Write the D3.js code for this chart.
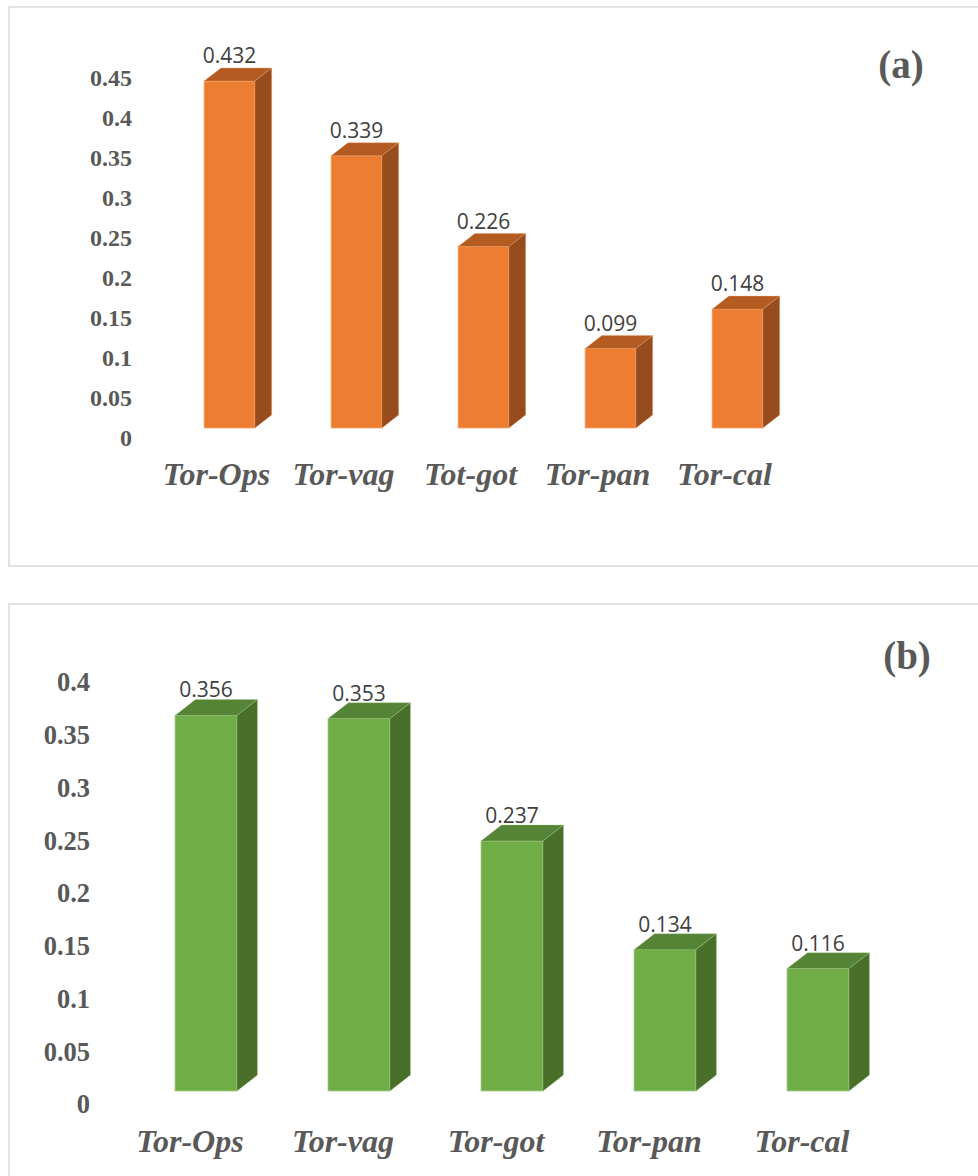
<!DOCTYPE html>
<html>
<head>
<meta charset="utf-8">
<script src="https://cdn.jsdelivr.net/npm/d3@7"></script>
<style>
  html, body { margin: 0; padding: 0; background: #ffffff; }
  svg { display: block; }
</style>
</head>
<body>
<div id="chart"></div>
<script>
// Panel (a) data
const categoriesA = ["Tor-Ops", "Tor-vag", "Tot-got", "Tor-pan", "Tor-cal"];
const valuesA = [0.432, 0.339, 0.226, 0.099, 0.148];
const ticksA = [0, 0.05, 0.1, 0.15, 0.2, 0.25, 0.3, 0.35, 0.4, 0.45];

// Panel (b) data
const categoriesB = ["Tor-Ops", "Tor-vag", "Tor-got", "Tor-pan", "Tor-cal"];
const valuesB = [0.356, 0.353, 0.237, 0.134, 0.116];
const ticksB = [0, 0.05, 0.1, 0.15, 0.2, 0.25, 0.3, 0.35, 0.4];

const W = 978, H = 1176;
const svg = d3.select("#chart").append("svg")
  .attr("width", W).attr("height", H);

const panels = [
  {
    name: "(a)", cats: categoriesA, vals: valuesA, ticks: ticksA,
    box: { x: 9, y: 7, w: 1000, h: 559 },
    xRange: [166, 801], pad: 0.6,
    yDomain: [0, 0.45], yRange: [428, 428 - 0.45 * 803],
    axisRange: [438, 78], axisRight: 132, tickSize: 24,
    catY: 485, catShift: -13,
    labelPos: [901, 78],
    front: "#ED7D31", top: "#B45B21", side: "#974C1D", edge: "#F4A46E"
  },
  {
    name: "(b)", cats: categoriesB, vals: valuesB, ticks: ticksB,
    box: { x: 9, y: 604, w: 1000, h: 600 },
    xRange: [129.5, 894.5], pad: 0.595,
    yDomain: [0, 0.4], yRange: [1091, 1091 - 0.4 * 1055],
    axisRange: [1104, 682], axisRight: 90, tickSize: 26.5,
    catY: 1152, catShift: -16,
    labelPos: [907, 669],
    front: "#70AD47", top: "#568436", side: "#4A6F2A", edge: "#A3CC88"
  }
];

panels.forEach(p => {
  const g = svg.append("g");

  // panel frame
  g.append("rect")
    .attr("x", p.box.x).attr("y", p.box.y)
    .attr("width", p.box.w).attr("height", p.box.h)
    .attr("fill", "#ffffff")
    .attr("stroke", "#D9D9D9").attr("stroke-width", 1.5);

  const x = d3.scaleBand().domain(p.cats).range(p.xRange)
    .paddingInner(p.pad).paddingOuter(p.pad / 2);
  const y = d3.scaleLinear().domain(p.yDomain).range(p.yRange);
  // value axis sits on the back wall of the 3-D plot
  const yAxis = d3.scaleLinear().domain(p.yDomain).range(p.axisRange);

  const bw = x.bandwidth();
  const dx = bw * 0.33, dy = dx * 0.78;

  // value axis labels
  const axis = d3.axisLeft(yAxis).tickValues(p.ticks).tickSize(0).tickPadding(0)
    .tickFormat(d => d === 0 ? "0" : String(+d.toFixed(2)));
  const ag = g.append("g").attr("transform", `translate(${p.axisRight},0)`).call(axis);
  ag.select(".domain").remove();
  ag.selectAll("text")
    .attr("font-family", "'Liberation Serif', 'Times New Roman', serif")
    .attr("font-weight", "bold")
    .attr("font-size", p.tickSize)
    .attr("fill", "#595959")
    .attr("dy", "0.33em");

  const rows = p.cats.map((c, i) => ({ c, v: p.vals[i] }));
  const bars = g.selectAll("g.bar").data(rows).enter().append("g").attr("class", "bar");

  // front face
  bars.append("rect")
    .attr("x", d => x(d.c)).attr("y", d => y(d.v))
    .attr("width", bw).attr("height", d => y(0) - y(d.v))
    .attr("fill", p.front).attr("stroke", p.edge).attr("stroke-width", 0.8);

  // top face
  bars.append("path")
    .attr("d", d => {
      const x0 = x(d.c), yt = y(d.v);
      return `M${x0},${yt}L${x0 + dx},${yt - dy}L${x0 + bw + dx},${yt - dy}L${x0 + bw},${yt}Z`;
    })
    .attr("fill", p.top).attr("stroke", p.edge).attr("stroke-width", 0.6).attr("stroke-opacity", 0.6);

  // side face
  bars.append("path")
    .attr("d", d => {
      const x1 = x(d.c) + bw, yt = y(d.v), yb = y(0);
      return `M${x1},${yt}L${x1 + dx},${yt - dy}L${x1 + dx},${yb - dy}L${x1},${yb}Z`;
    })
    .attr("fill", p.side).attr("stroke", p.edge).attr("stroke-width", 0.6).attr("stroke-opacity", 0.6);

  // value labels
  bars.append("text")
    .attr("x", d => x(d.c) + bw / 2)
    .attr("y", d => y(d.v) - 18)
    .attr("text-anchor", "middle")
    .attr("font-family", "'Open Sans', 'Noto Sans', sans-serif")
    .attr("font-size", 21)
    .attr("fill", "#404040")
    .text(d => d.v.toFixed(3));

  // category labels
  g.selectAll("text.cat").data(p.cats).enter().append("text")
    .attr("class", "cat")
    .attr("x", d => x(d) + bw / 2 + p.catShift)
    .attr("y", p.catY)
    .attr("text-anchor", "middle")
    .attr("font-family", "'Liberation Serif', 'Times New Roman', serif")
    .attr("font-weight", "bold")
    .attr("font-style", "italic")
    .attr("font-size", 32)
    .attr("fill", "#595959")
    .text(d => d);

  // panel tag
  g.append("text")
    .attr("x", p.labelPos[0]).attr("y", p.labelPos[1])
    .attr("text-anchor", "middle")
    .attr("font-family", "'Liberation Serif', 'Times New Roman', serif")
    .attr("font-weight", "bold")
    .attr("font-size", 39)
    .attr("fill", "#595959")
    .text(p.name);
});
</script>
</body>
</html>
